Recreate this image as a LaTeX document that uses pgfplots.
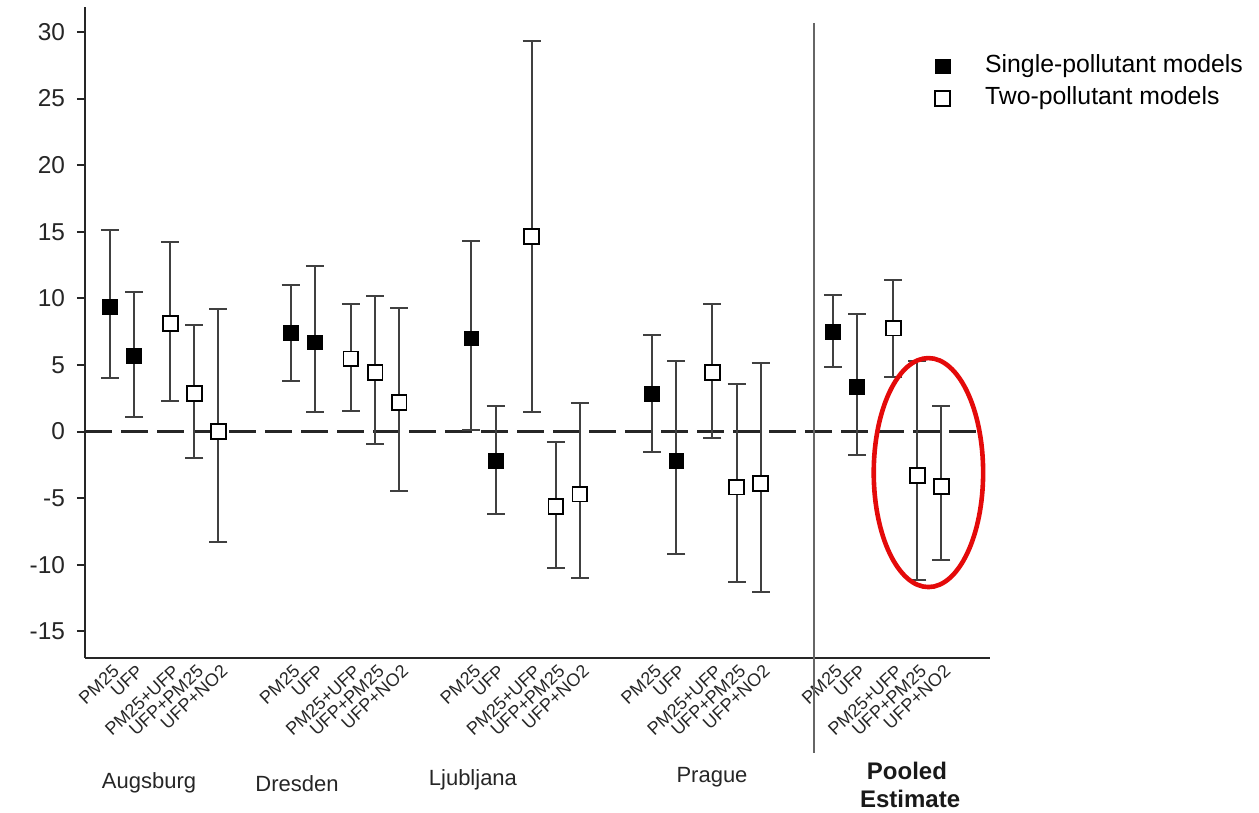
\documentclass[border=0pt]{standalone}
\usepackage{fontspec}
\setmainfont{Liberation Sans}
\usepackage{pgfplots}
\pgfplotsset{compat=1.18}
\usepackage{pgfplotstable}

% x  estimate  lower  upper
\pgfplotstableread{
x y lo hi
0 9.38 4.0 15.1
1 5.7 1.1 10.5
7.5 7.4 3.83 11.0
8.5 6.7 1.45 12.4
15 7.0 0.13 14.3
16 -2.2 -6.2 1.93
22.5 2.8 -1.5 7.28
23.5 -2.2 -9.18 5.33
30 7.5 4.83 10.26
31 3.33 -1.75 8.84
}\single

\pgfplotstableread{
x y lo hi
2.5 8.1 2.3 14.2
3.5 2.85 -2.0 8.0
4.5 0.0 -8.3 9.2
10 5.45 1.55 9.6
11 4.45 -0.92 10.2
12 2.18 -4.43 9.26
17.5 14.64 1.5 29.35
18.5 -5.63 -10.23 -0.75
19.5 -4.7 -11.0 2.13
25 4.43 -0.5 9.59
26 -4.17 -11.33 3.58
27 -3.88 -12.03 5.13
32.5 7.76 4.13 11.39
33.5 -3.3 -11.13 5.26
34.5 -4.13 -9.63 1.93
}\two

\definecolor{ringred}{RGB}{228,10,10}

\begin{document}
\begin{tikzpicture}
\useasboundingbox (-42.5pt,-77.5pt) rectangle (587pt,329pt);
\begin{axis}[
  x=12.05pt, y=6.66pt,
  xmin=-1.037, xmax=36.51, ymin=-17.0, ymax=31.88,
  axis x line*=bottom, axis y line*=left,
  axis line style={line width=1pt, black!85},
  ytick={-15,-10,-5,0,5,10,15,20,25,30},
  yticklabels={-15,-10,-5,0,5,10,15,20,25,30},
  yticklabel style={font=\fontsize{12.2}{14}\selectfont, text=black!85, xshift=-2.5pt},
  ytick style={line width=1pt, black!85},
  major tick length=4pt, tick align=outside,
  xtick={0,1,2.5,3.5,4.5,7.5,8.5,10,11,12,15,16,17.5,18.5,19.5,22.5,23.5,25,26,27,30,31,32.5,33.5,34.5},
  xticklabels={PM25,UFP,PM25+UFP,UFP+PM25,UFP+NO2,PM25,UFP,PM25+UFP,UFP+PM25,UFP+NO2,PM25,UFP,PM25+UFP,UFP+PM25,UFP+NO2,PM25,UFP,PM25+UFP,UFP+PM25,UFP+NO2,PM25,UFP,PM25+UFP,UFP+PM25,UFP+NO2},
  xtick style={draw=none},
  xticklabel style={rotate=43, anchor=east, font=\fontsize{9}{10}\selectfont, text=black!85, inner sep=0.5pt, yshift=-3pt, xshift=2pt},
  clip=false,
  legend style={at={(axis cs:34.23,28.65)}, anchor=north west, draw=none, fill=none,
    font=\fontsize{12.4}{14}\selectfont, inner sep=0pt, row sep=0pt,
    nodes={text height=9pt, text depth=3pt, inner sep=2pt},
    /tikz/every odd column/.append style={column sep=15.5pt}},
  legend cell align=left,
]
\draw[black!85, line width=1.25pt, dash pattern=on 13.5pt off 4.5pt] (axis cs:-1.037,0) -- (axis cs:36.22,0);
\draw[black!60, line width=0.8pt] (axis cs:29.22,30.68) -- (axis cs:29.22,-24.12);

\addplot[only marks, mark=square*, mark size=3.7pt, mark options={solid, draw=black, fill=black},
  error bars/.cd, y dir=both, y explicit,
  error bar style={line width=1pt, black!75},
  error mark options={rotate=90, mark size=4.5pt, line width=1pt, black!75}]
  table[x=x, y=y, y error plus expr=\thisrow{hi}-\thisrow{y}, y error minus expr=\thisrow{y}-\thisrow{lo}] {\single};
\addlegendentry{Single-pollutant models}

\addplot[only marks, mark=square*, mark size=3.7pt, mark options={solid, draw=black, fill=white, line width=0.9pt},
  error bars/.cd, y dir=both, y explicit,
  error bar style={line width=1pt, black!75},
  error mark options={rotate=90, mark size=4.5pt, line width=1pt, black!75}]
  table[x=x, y=y, y error plus expr=\thisrow{hi}-\thisrow{y}, y error minus expr=\thisrow{y}-\thisrow{lo}] {\two};
\addlegendentry{Two-pollutant models}

\draw[ringred, line width=2.3pt] (axis cs:33.96,-3.08) ellipse [x radius=27.35pt, y radius=57.25pt];

\node[anchor=base, font=\fontsize{11}{13}\selectfont, text=black!85] at (axis cs:1.62,-26.8) {Augsburg};
\node[anchor=base, font=\fontsize{11}{13}\selectfont, text=black!85] at (axis cs:7.76,-27.0) {Dresden};
\node[anchor=base, font=\fontsize{11}{13}\selectfont, text=black!85] at (axis cs:15.06,-26.6) {Ljubljana};
\node[anchor=base, font=\fontsize{11}{13}\selectfont, text=black!85] at (axis cs:24.98,-26.35) {Prague};
\node[anchor=base, font=\bfseries\fontsize{12}{14}\selectfont, text=black!90] at (axis cs:33.07,-26.1) {Pooled};
\node[anchor=base, font=\bfseries\fontsize{12}{14}\selectfont, text=black!90] at (axis cs:33.2,-28.25) {Estimate};
\end{axis}
\end{tikzpicture}
\end{document}
